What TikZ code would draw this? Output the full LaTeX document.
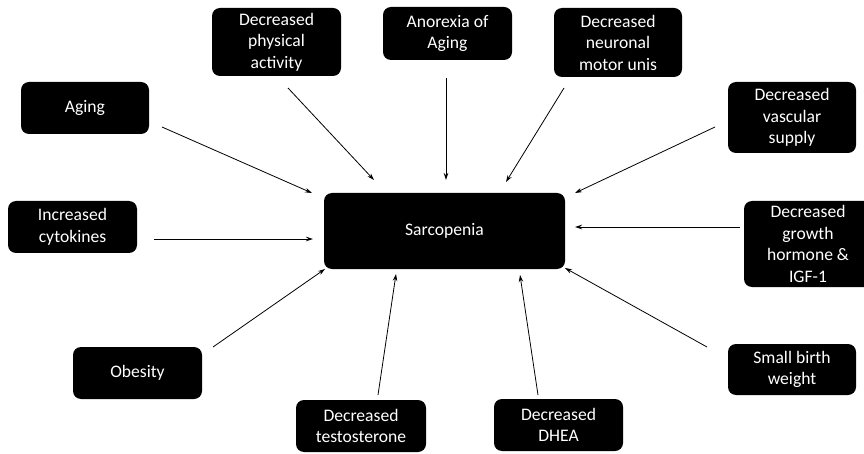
\documentclass[tikz,border=0pt]{standalone}
\usepackage{fontspec}
\setmainfont{Carlito}
\usetikzlibrary{arrows.meta}
\begin{document}
\begin{tikzpicture}[x=1pt,y=-1pt,
  box/.style={fill=black,text=white,rounded corners=8pt,align=center,inner sep=0pt,
    font=\fontsize{17.6}{21.5}\selectfont},
  arr/.style={line width=0.8pt,-{Stealth[length=7pt,width=4.5pt]}}]
\useasboundingbox (0,0) rectangle (864,454);
\clip (0,0) rectangle (864,454);
\node[box,minimum width=129pt,minimum height=68pt] (phys) at (276.5,42) {Decreased\\physical\\activity};
\node[box,minimum width=128pt,minimum height=52pt] (aging) at (85,108) {Aging};
\node[box,minimum width=129pt,minimum height=53pt] (anor) at (447.5,33.5) {Anorexia of\\Aging};
\node[box,minimum width=128pt,minimum height=69pt] (neur) at (618,42.5) {Decreased\\neuronal\\motor unis};
\node[box,minimum width=128pt,minimum height=71pt] (vasc) at (792,117.5) {Decreased\\vascular\\supply};
\node[box,minimum width=129pt,minimum height=52pt] (cyto) at (72.5,227) {Increased\\cytokines};
\node[box,minimum width=241pt,minimum height=76pt] (sarc) at (444.5,231) {Sarcopenia};
\node[box,minimum width=128pt,minimum height=86pt] (grow) at (808,244) {Decreased\\growth\\hormone \&\\IGF-1};
\node[box,minimum width=129pt,minimum height=52pt] (obes) at (137.5,373) {Obesity};
\node[box,minimum width=130pt,minimum height=52pt] (test) at (361,426) {Decreased\\testosterone};
\node[box,minimum width=129pt,minimum height=52pt] (dhea) at (558.5,425) {Decreased\\DHEA};
\node[box,minimum width=128pt,minimum height=51pt] (small) at (792,369.5) {Small birth\\weight};
% connector end points
\coordinate (s1) at (162,127); \coordinate (e1) at (312,193);
\coordinate (s2) at (288,88);  \coordinate (e2) at (374,180);
\coordinate (s3) at (446,78);  \coordinate (e3) at (446,180);
\coordinate (s4) at (564,88);  \coordinate (e4) at (506,182);
\coordinate (s5) at (715,127); \coordinate (e5) at (575,193);
\coordinate (s6) at (740,227); \coordinate (e6) at (575,227);
\coordinate (s7) at (154,239); \coordinate (e7) at (313,239);
\coordinate (s8) at (213,347); \coordinate (e8) at (325,269);
\coordinate (s9) at (378,395); \coordinate (e9) at (396,274);
\coordinate (s10) at (538,395); \coordinate (e10) at (520,275);
\coordinate (s11) at (707,347); \coordinate (e11) at (565,268);
\foreach \i in {1,...,11} \draw[arr] (s\i) -- (e\i);
\end{tikzpicture}
\end{document}
